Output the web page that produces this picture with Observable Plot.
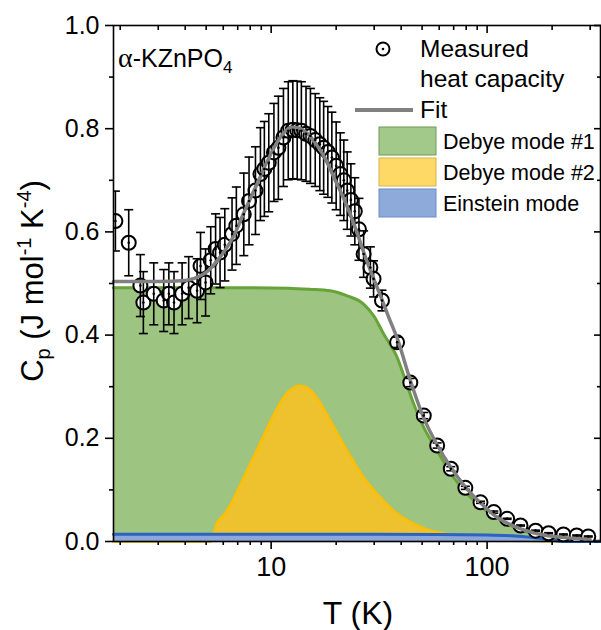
<!DOCTYPE html>
<html>
<head>
<meta charset="utf-8">
<script src="https://cdn.jsdelivr.net/npm/d3@7"></script>
<script src="https://cdn.jsdelivr.net/npm/@observablehq/plot@0.6"></script>
<style>
  html, body { margin: 0; padding: 0; background: #fff; }
  #chart { width: 601px; height: 630px; overflow: hidden; }
</style>
</head>
<body>
<div id="chart"></div>
<script>
// ---- Measured heat capacity (C/T^3) ----
const measT   = [1.9, 2.19, 2.48, 2.56, 2.86, 3.18, 3.36, 3.55, 3.87, 4.15, 4.54, 4.71, 4.97, 5.25, 5.53, 5.8, 6.1, 6.59, 6.9, 7.47, 7.9, 8.46, 8.92, 9.3, 9.75, 10.3, 10.8, 11.4, 12.0, 12.6, 13.2, 13.8, 14.5, 15.2, 16.0, 16.8, 17.5, 18.3, 19.1, 20.0, 20.9, 21.7, 22.5, 23.4, 24.4, 25.5, 26.8, 28.8, 29.8, 32.6, 38.3, 44.1, 50.9, 58.7, 67.9, 79.3, 93.2, 107.4, 123.8, 142.8, 167.7, 192.6, 225.6, 259.8, 294];
const measCp  = [0.621, 0.579, 0.496, 0.463, 0.480, 0.467, 0.480, 0.463, 0.480, 0.492, 0.486, 0.534, 0.502, 0.545, 0.567, 0.560, 0.575, 0.596, 0.612, 0.634, 0.660, 0.680, 0.712, 0.722, 0.734, 0.754, 0.763, 0.783, 0.796, 0.798, 0.797, 0.796, 0.790, 0.786, 0.778, 0.770, 0.763, 0.755, 0.744, 0.728, 0.712, 0.700, 0.680, 0.662, 0.640, 0.605, 0.557, 0.531, 0.509, 0.467, 0.386, 0.308, 0.244, 0.186, 0.141, 0.104, 0.076, 0.057, 0.044, 0.031, 0.021, 0.016, 0.0136, 0.0116, 0.0097];
const measErr = [0.058, 0.064, 0.060, 0.060, 0.060, 0.060, 0.060, 0.060, 0.060, 0.060, 0.062, 0.065, 0.065, 0.065, 0.068, 0.068, 0.070, 0.070, 0.075, 0.080, 0.085, 0.085, 0.090, 0.092, 0.095, 0.095, 0.100, 0.095, 0.095, 0.095, 0.095, 0.095, 0.092, 0.092, 0.090, 0.090, 0.090, 0.088, 0.088, 0.085, 0.080, 0.078, 0.075, 0.070, 0.065, 0.060, 0.045, 0.040, 0.035, 0.020, 0.010, 0.008, 0.006, 0.005, 0.004, 0.003, 0.002, 0.002, 0.001, 0.001, 0.001, 0.001, 0.001, 0.001, 0.001];

// ---- Fit ----
const fitT  = [1.862, 3, 4.0, 4.71, 5.05, 5.82, 6.71, 7.47, 8.5, 9.5, 10.6, 11.5, 12.4, 13.5, 14.6, 16.3, 17.8, 19.5, 21.3, 23.3, 25.0, 26.7, 29.0, 32.1, 35.0, 38.4, 44.1, 50.8, 58.9, 68.1, 78.5, 93.6, 112, 138, 171, 224, 300];
const fitCp = [0.504, 0.504, 0.506, 0.515, 0.523, 0.552, 0.592, 0.637, 0.688, 0.733, 0.772, 0.793, 0.803, 0.801, 0.792, 0.768, 0.742, 0.706, 0.672, 0.633, 0.598, 0.563, 0.522, 0.476, 0.435, 0.393, 0.312, 0.240, 0.186, 0.143, 0.108, 0.074, 0.046, 0.027, 0.015, 0.008, 0.004];

// ---- Debye mode #1 ----
const deb1T  = [1.862, 3, 5, 8, 12, 15, 18.8, 22.5, 26.8, 30, 33.2, 38.3, 41.9, 45.7, 50.9, 58.7, 70.1, 83.7, 103.6, 128.2, 158.7, 190, 218, 260, 335];
const deb1Cp = [0.492, 0.492, 0.492, 0.492, 0.491, 0.489, 0.486, 0.476, 0.460, 0.436, 0.402, 0.357, 0.312, 0.267, 0.221, 0.176, 0.124, 0.086, 0.054, 0.031, 0.016, 0.008, 0.004, 0.002, 0.001];

// ---- Debye mode #2 ----
const deb2T  = [1.862, 4, 5.25, 5.6, 6.0, 6.5, 7.2, 8.0, 9.0, 9.9, 10.8, 11.6, 12.5, 13.4, 14.3, 15.2, 16.5, 18.8, 22.5, 26.8, 32.1, 38.3, 45.6, 54.6, 61, 70, 90, 130, 335];
const deb2Cp = [0, 0, 0, 0.035, 0.05, 0.072, 0.11, 0.15, 0.195, 0.232, 0.262, 0.283, 0.296, 0.302, 0.300, 0.293, 0.275, 0.234, 0.176, 0.124, 0.085, 0.054, 0.035, 0.021, 0.017, 0.012, 0.006, 0.002, 0];

// ---- Einstein mode ----
const einT  = [1.862, 10, 30, 60, 100, 130, 160, 190, 230, 335];
const einCp = [0.014, 0.014, 0.014, 0.0138, 0.0128, 0.011, 0.008, 0.004, 0, 0];

// ---- Axis ticks & labels ----
const yMajor = [0, 0.2, 0.4, 0.6, 0.8, 1.0];
const yMinor = [0.1, 0.3, 0.5, 0.7, 0.9];
const xMajor = [10, 100];
const xMinor = [2, 3, 4, 5, 6, 7, 8, 9, 20, 30, 40, 50, 60, 70, 80, 90, 200, 300];
const legendLabels = ["Debye mode #1", "Debye mode #2", "Einstein mode"];

const toRows = (T, C) => T.map((t, i) => ({T: t, cp: C[i]}));
const meas = measT.map((t, i) => ({T: t, cp: measCp[i], err: measErr[i]}));
const fit = toRows(fitT, fitCp);
const deb1 = toRows(deb1T, deb1Cp);
const deb2 = toRows(deb2T, deb2Cp);
const ein = toRows(einT, einCp);

const green = "#9dc481", greenLine = "#66a338";
const yellow = "#eec22e", yellowLine = "#ffbf00";
const blueFill = "#8ca7d8", blueLine = "#2b63c2";

const capSymbol = { draw(ctx, size) { const r = Math.sqrt(size / Math.PI); ctx.moveTo(-r, 0); ctx.lineTo(r, 0); } };
const FONT = "'Liberation Sans', Arial, sans-serif";
const blank = () => "";

const svg = Plot.plot({
  width: 601, height: 630,
  marginLeft: 113, marginRight: 1, marginTop: 25, marginBottom: 89,
  x: {type: "log", domain: [1.862, 335], label: null},
  y: {domain: [0, 1], label: null},
  style: {fontFamily: FONT, color: "black", background: "white", overflow: "visible"},
  marks: [
    Plot.areaY(deb1, {x: "T", y: "cp", fill: green, curve: "monotone-x"}),
    Plot.lineY(deb1, {x: "T", y: "cp", stroke: greenLine, strokeWidth: 3, curve: "monotone-x"}),
    Plot.areaY(deb2, {x: "T", y: "cp", fill: yellow, curve: "monotone-x"}),
    Plot.lineY(deb2, {x: "T", y: "cp", stroke: yellowLine, strokeWidth: 2.5, curve: "monotone-x"}),
    Plot.areaY(ein, {x: "T", y: "cp", fill: blueFill, curve: "monotone-x"}),
    Plot.lineY(ein, {x: "T", y: "cp", stroke: blueLine, strokeWidth: 3, curve: "monotone-x"}),
    Plot.dot(meas, {x: "T", y: "cp", r: 7, fill: "white", stroke: "black", strokeWidth: 2, clip: true}),
    Plot.ruleX(meas, {x: "T", y1: d => d.cp - d.err, y2: d => d.cp + d.err, stroke: "black", strokeWidth: 1.6, clip: true}),
    Plot.dot(meas, {x: "T", y: d => d.cp + d.err, symbol: capSymbol, r: 4.5, stroke: "black", strokeWidth: 1.6, clip: true}),
    Plot.dot(meas, {x: "T", y: d => d.cp - d.err, symbol: capSymbol, r: 4.5, stroke: "black", strokeWidth: 1.6, clip: true}),
    Plot.lineY(fit, {x: "T", y: "cp", stroke: "#808080", strokeWidth: 3.5, curve: "monotone-x"}),
    Plot.dot(meas, {x: "T", y: "cp", r: 1.3, fill: "black", clip: true}),
    Plot.frame({stroke: "black", strokeWidth: 1.6}),
    Plot.axisY({ticks: yMajor, tickFormat: d3.format(".1f"), tickSize: 8, tickPadding: 6, fontSize: 25, strokeWidth: 1.6}),
    Plot.axisY({ticks: yMinor, tickFormat: blank, tickSize: 4, strokeWidth: 1.6}),
    Plot.axisY({anchor: "right", ticks: yMajor, tickFormat: blank, tickSize: -7, strokeWidth: 1.6}),
    Plot.axisY({anchor: "right", ticks: yMinor, tickFormat: blank, tickSize: -4, strokeWidth: 1.6}),
    Plot.axisX({ticks: xMajor, tickFormat: d => String(d), tickSize: 8, tickPadding: 7, fontSize: 27, strokeWidth: 1.6}),
    Plot.axisX({ticks: xMinor, tickFormat: blank, tickSize: 4, strokeWidth: 1.6}),
    Plot.axisX({anchor: "top", ticks: xMajor, tickFormat: blank, tickSize: -7, strokeWidth: 1.6}),
    Plot.axisX({anchor: "top", ticks: xMinor, tickFormat: blank, tickSize: -4, strokeWidth: 1.6})
  ]
});
document.getElementById("chart").appendChild(svg);

// ---- Annotations: titles, sample label, legend ----
const s = d3.select(svg);
const g = s.append("g").attr("font-family", FONT).attr("fill", "black").attr("text-anchor", "start");

// x title
g.append("text").attr("x", 358).attr("y", 624).attr("text-anchor", "middle")
  .attr("font-size", 32).text("T (K)");

// y title
const yt = g.append("text").attr("transform", "translate(43,281) rotate(-90)")
  .attr("text-anchor", "middle").attr("font-size", 31);
yt.append("tspan").text("C");
yt.append("tspan").attr("font-size", 20).attr("dy", 7).text("p");
yt.append("tspan").attr("dy", -7).text(" (J mol");
yt.append("tspan").attr("font-size", 20).attr("dy", -12).text("-1");
yt.append("tspan").attr("dy", 12).text(" K");
yt.append("tspan").attr("font-size", 20).attr("dy", -12).text("-4");
yt.append("tspan").attr("dy", 12).text(")");

// sample label
const lab = g.append("text").attr("x", 118).attr("y", 67).attr("font-size", 25);
lab.append("tspan").attr("font-family", "'Liberation Serif', 'DejaVu Serif', serif").attr("font-size", 28).text("α");
lab.append("tspan").text("-KZnPO");
lab.append("tspan").attr("font-size", 17).attr("dy", 6).text("4");

// legend: measured
g.append("circle").attr("cx", 383).attr("cy", 49).attr("r", 6.5)
  .attr("fill", "white").attr("stroke", "black").attr("stroke-width", 2);
g.append("circle").attr("cx", 383).attr("cy", 49).attr("r", 1.3).attr("fill", "black");
g.append("text").attr("x", 420).attr("y", 57).attr("font-size", 24.5).text("Measured");
g.append("text").attr("x", 420).attr("y", 87).attr("font-size", 24.5).text("heat capacity");
// legend: fit
g.append("line").attr("x1", 355).attr("x2", 413).attr("y1", 110).attr("y2", 110)
  .attr("stroke", "#808080").attr("stroke-width", 4);
g.append("text").attr("x", 420).attr("y", 118).attr("font-size", 24.5).text("Fit");
// legend: areas
const boxFills = ["#a2c98a", "#ffd966", "#8eaadb"];
const boxStrokes = ["#6f9a55", "#d8b24e", "#6c8cc4"];
const boxY = [127, 158, 189];
legendLabels.forEach((t, i) => {
  g.append("rect").attr("x", 379).attr("y", boxY[i]).attr("width", 57).attr("height", 28)
    .attr("fill", boxFills[i]).attr("stroke", boxStrokes[i]).attr("stroke-width", 1);
  g.append("text").attr("x", 443).attr("y", boxY[i] + 22).attr("font-size", 21.5).text(t);
});
</script>
</body>
</html>
